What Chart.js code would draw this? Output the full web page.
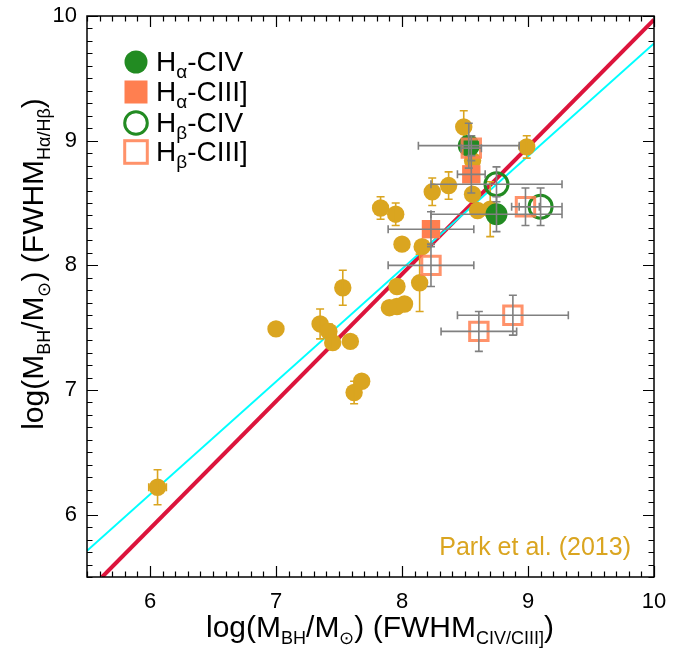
<!DOCTYPE html>
<html>
<head>
<meta charset="utf-8">
<script src="https://cdn.jsdelivr.net/npm/chart.js@4/dist/chart.umd.min.js"></script>
<style>
  html, body { margin: 0; padding: 0; background: #fff; }
</style>
</head>
<body>
<canvas id="massChart" width="686" height="650"></canvas>
<script>
// Axis ticks
const xTicks = [6, 7, 8, 9, 10];
const yTicks = [6, 7, 8, 9, 10];

// Park et al. (2013) sample
const parkX    = [6.06, 7.00, 7.35, 7.42, 7.45, 7.53, 7.59, 7.62, 7.68, 7.83, 7.90, 7.96, 7.95, 7.96, 8.00, 8.02, 8.14, 8.16, 8.24, 8.37, 8.49, 8.56, 8.56, 8.60, 8.70, 8.99];
const parkY    = [6.22, 7.49, 7.53, 7.47, 7.38, 7.82, 7.39, 6.98, 7.07, 8.46, 7.66, 7.67, 8.41, 7.83, 8.17, 7.69, 7.86, 8.15, 8.59, 8.64, 9.11, 8.84, 8.57, 8.44, 8.45, 8.95];
const parkXErr = [0.07, 0, 0, 0, 0, 0, 0, 0, 0, 0, 0, 0, 0, 0, 0, 0, 0, 0, 0, 0, 0, 0, 0, 0, 0, 0];
const parkYErr = [0.14, 0, 0.12, 0.06, 0.05, 0.14, 0, 0.09, 0, 0.09, 0, 0, 0.09, 0, 0, 0, 0.23, 0, 0.11, 0.11, 0.13, 0, 0, 0, 0.22, 0.09];

// H-alpha / CIV
const haCivX = [8.53, 8.75];
const haCivY = [8.96, 8.41];
const haCivXErr = [0.40, 0.52];
const haCivYErr = [0.18, 0.14];

// H-alpha / CIII]
const haCiiiX = [8.23, 8.55];
const haCiiiY = [8.29, 8.73];
const haCiiiXErr = [0.34, 0.11];
const haCiiiYErr = [0.14, 0.15];

// H-beta / CIV
const hbCivX = [8.75, 9.10];
const hbCivY = [8.65, 8.47];
const hbCivXErr = [0.52, 0.17];
const hbCivYErr = [0.14, 0.15];

// H-beta / CIII]
const hbCiiiX = [8.55, 8.23, 8.98, 8.88, 8.61];
const hbCiiiY = [8.94, 8.00, 8.47, 7.60, 7.47];
const hbCiiiXErr = [0.08, 0.34, 0.11, 0.44, 0.30];
const hbCiiiYErr = [0.10, 0.17, 0.15, 0.16, 0.16];

// relations
const redLineX = [5.62, 10];
const redLineY = [5.50, 9.97];
const cyanLineX = [5.5, 10];
const cyanLineY = [5.71, 9.78];

const FONT = '"Liberation Sans", Arial, sans-serif';
const GOLD = '#DAA520';
const GREEN = '#228B22';
const CORAL = '#FF7F50';
const GRAY = '#808080';

const pts = (xs, ys) => xs.map((x, i) => ({ x: x, y: ys[i] }));

// text with subscripts
function drawRich(ctx, parts, x, y, big, small, align) {
  let w = 0;
  parts.forEach(p => {
    ctx.font = (p.sub ? small : big) + 'px ' + FONT;
    w += ctx.measureText(p.t).width;
  });
  let cx = align === 'left' ? x : x - w / 2;
  ctx.textAlign = 'left';
  ctx.textBaseline = 'alphabetic';
  parts.forEach(p => {
    ctx.font = (p.sub ? small : big) + 'px ' + FONT;
    ctx.fillText(p.t, cx, p.sub ? y + big * 0.24 : y);
    cx += ctx.measureText(p.t).width;
  });
}

function errBars(ctx, chart, xs, ys, xe, ye, color, cap) {
  const sx = chart.scales.x, sy = chart.scales.y;
  ctx.save();
  ctx.strokeStyle = color;
  ctx.lineWidth = 1.6;
  ctx.beginPath();
  xs.forEach((x, i) => {
    const px = sx.getPixelForValue(x), py = sy.getPixelForValue(ys[i]);
    if (xe[i] > 0) {
      const l = sx.getPixelForValue(x - xe[i]), r = sx.getPixelForValue(x + xe[i]);
      ctx.moveTo(l, py); ctx.lineTo(r, py);
      ctx.moveTo(l, py - cap); ctx.lineTo(l, py + cap);
      ctx.moveTo(r, py - cap); ctx.lineTo(r, py + cap);
    }
    if (ye[i] > 0) {
      const t = sy.getPixelForValue(ys[i] + ye[i]), b = sy.getPixelForValue(ys[i] - ye[i]);
      ctx.moveTo(px, t); ctx.lineTo(px, b);
      ctx.moveTo(px - cap, t); ctx.lineTo(px + cap, t);
      ctx.moveTo(px - cap, b); ctx.lineTo(px + cap, b);
    }
  });
  ctx.stroke();
  ctx.restore();
}

const decorPlugin = {
  id: 'decor',
  afterDatasetDraw(chart, args) {
    if (args.index === 2) {
      errBars(chart.ctx, chart, parkX, parkY, parkXErr, parkYErr, GOLD, 4);
    }
  },
  afterDatasetsDraw(chart) {
    const ctx = chart.ctx;
    errBars(ctx, chart, haCivX, haCivY, haCivXErr, haCivYErr, GRAY, 4);
    errBars(ctx, chart, haCiiiX, haCiiiY, haCiiiXErr, haCiiiYErr, GRAY, 4);
    errBars(ctx, chart, hbCivX, hbCivY, hbCivXErr, hbCivYErr, GRAY, 4);
    errBars(ctx, chart, hbCiiiX, hbCiiiY, hbCiiiXErr, hbCiiiYErr, GRAY, 4);
  },
  afterDraw(chart) {
    const ctx = chart.ctx;
    const a = chart.chartArea;
    const sx = chart.scales.x, sy = chart.scales.y;
    ctx.save();
    // frame
    ctx.strokeStyle = '#000';
    ctx.lineWidth = 1.5;
    ctx.strokeRect(a.left, a.top, a.right - a.left, a.bottom - a.top);
    // minor / major ticks on all sides
    ctx.lineWidth = 1.2;
    ctx.beginPath();
    for (let i = 55; i <= 100; i++) {
      const v = i / 10;
      const len = i % 10 === 0 ? 11 : 5.5;
      const px = Math.round(sx.getPixelForValue(v)) + 0.5;
      ctx.moveTo(px, a.bottom); ctx.lineTo(px, a.bottom - len);
      ctx.moveTo(px, a.top); ctx.lineTo(px, a.top + len);
      const py = Math.round(sy.getPixelForValue(v)) + 0.5;
      ctx.moveTo(a.left, py); ctx.lineTo(a.left + len, py);
      ctx.moveTo(a.right, py); ctx.lineTo(a.right - len, py);
    }
    ctx.stroke();

    // axis titles
    ctx.fillStyle = '#000';
    drawRich(ctx, [
      { t: 'log(M' }, { t: 'BH', sub: true }, { t: '/M' }, { t: '\u2299', sub: true },
      { t: ') (FWHM' }, { t: 'CIV/CIII]', sub: true }, { t: ')' }
    ], 380, 637, 30, 18, 'center');

    ctx.save();
    ctx.translate(43, 264);
    ctx.rotate(-Math.PI / 2);
    drawRich(ctx, [
      { t: 'log(M' }, { t: 'BH', sub: true }, { t: '/M' }, { t: '\u2299', sub: true },
      { t: ') (FWHM' }, { t: 'H\u03b1/H\u03b2', sub: true }, { t: ')' }
    ], 0, 0, 30, 18, 'center');
    ctx.restore();

    // legend
    const lx = 136;
    const rows = [62, 92, 123, 152];
    ctx.fillStyle = GREEN;
    ctx.beginPath(); ctx.arc(lx, rows[0], 11.5, 0, Math.PI * 2); ctx.fill();
    ctx.fillStyle = CORAL;
    ctx.fillRect(lx - 11.5, rows[1] - 11.5, 23, 23);
    ctx.strokeStyle = GREEN; ctx.lineWidth = 3;
    ctx.beginPath(); ctx.arc(lx, rows[2], 11.3, 0, Math.PI * 2); ctx.stroke();
    ctx.strokeStyle = 'rgba(255,127,80,0.85)';
    ctx.strokeRect(lx - 11.3, rows[3] - 11.3, 22.6, 22.6);

    const labels = [
      [{ t: 'H' }, { t: '\u03b1', sub: true }, { t: '-CIV' }],
      [{ t: 'H' }, { t: '\u03b1', sub: true }, { t: '-CIII]' }],
      [{ t: 'H' }, { t: '\u03b2', sub: true }, { t: '-CIV' }],
      [{ t: 'H' }, { t: '\u03b2', sub: true }, { t: '-CIII]' }]
    ];
    ctx.fillStyle = '#000';
    labels.forEach((parts, i) => drawRich(ctx, parts, 156, rows[i] + 9, 28, 19, 'left'));

    // reference label
    ctx.fillStyle = GOLD;
    ctx.font = '25px ' + FONT;
    ctx.textAlign = 'right';
    ctx.textBaseline = 'alphabetic';
    ctx.fillText('Park et al. (2013)', 631, 555);
    ctx.restore();
  }
};

new Chart(document.getElementById('massChart'), {
  type: 'scatter',
  data: {
    datasets: [
      { type: 'line', data: pts(redLineX, redLineY), borderColor: '#DC143C', borderWidth: 4, pointRadius: 0, order: 7 },
      { type: 'line', data: pts(cyanLineX, cyanLineY), borderColor: '#00FFFF', borderWidth: 2, pointRadius: 0, order: 6 },
      { data: pts(parkX, parkY), pointStyle: 'circle', pointRadius: 8.7, backgroundColor: GOLD, borderWidth: 0, order: 5 },
      { data: pts(haCivX, haCivY), pointStyle: 'circle', pointRadius: 11, backgroundColor: GREEN, borderWidth: 0, order: 4 },
      { data: pts(haCiiiX, haCiiiY), pointStyle: 'rect', pointRadius: 13, backgroundColor: CORAL, borderWidth: 0, order: 3 },
      { data: pts(hbCivX, hbCivY), pointStyle: 'circle', pointRadius: 11.5, backgroundColor: 'rgba(0,0,0,0)', borderColor: GREEN, borderWidth: 3, order: 2 },
      { data: pts(hbCiiiX, hbCiiiY), pointStyle: 'rect', pointRadius: 13, backgroundColor: 'rgba(0,0,0,0)', borderColor: 'rgba(255,127,80,0.85)', borderWidth: 3, order: 1 }
    ]
  },
  options: {
    responsive: false,
    animation: false,
    devicePixelRatio: 1,
    layout: { padding: { left: 0, top: 15, right: 32, bottom: 0 } },
    plugins: { legend: { display: false }, tooltip: { enabled: false } },
    elements: { point: { hoverRadius: 0 } },
    scales: {
      x: {
        type: 'linear', min: 5.5, max: 10,
        grid: { display: false, drawTicks: false },
        border: { display: false },
        afterBuildTicks: s => { s.ticks = xTicks.map(v => ({ value: v })); },
        afterFit: s => { s.height = 73; s.paddingLeft = 0; s.paddingRight = 0; },
        ticks: { color: '#000', padding: 12, maxRotation: 0, font: { size: 22, family: FONT } }
      },
      y: {
        type: 'linear', min: 5.5, max: 10,
        grid: { display: false, drawTicks: false },
        border: { display: false },
        afterBuildTicks: s => { s.ticks = yTicks.map(v => ({ value: v })); },
        afterFit: s => { s.width = 87; s.paddingTop = 0; s.paddingBottom = 0; },
        ticks: { color: '#000', padding: 10, font: { size: 22, family: FONT } }
      }
    }
  },
  plugins: [decorPlugin]
});
</script>
</body>
</html>
